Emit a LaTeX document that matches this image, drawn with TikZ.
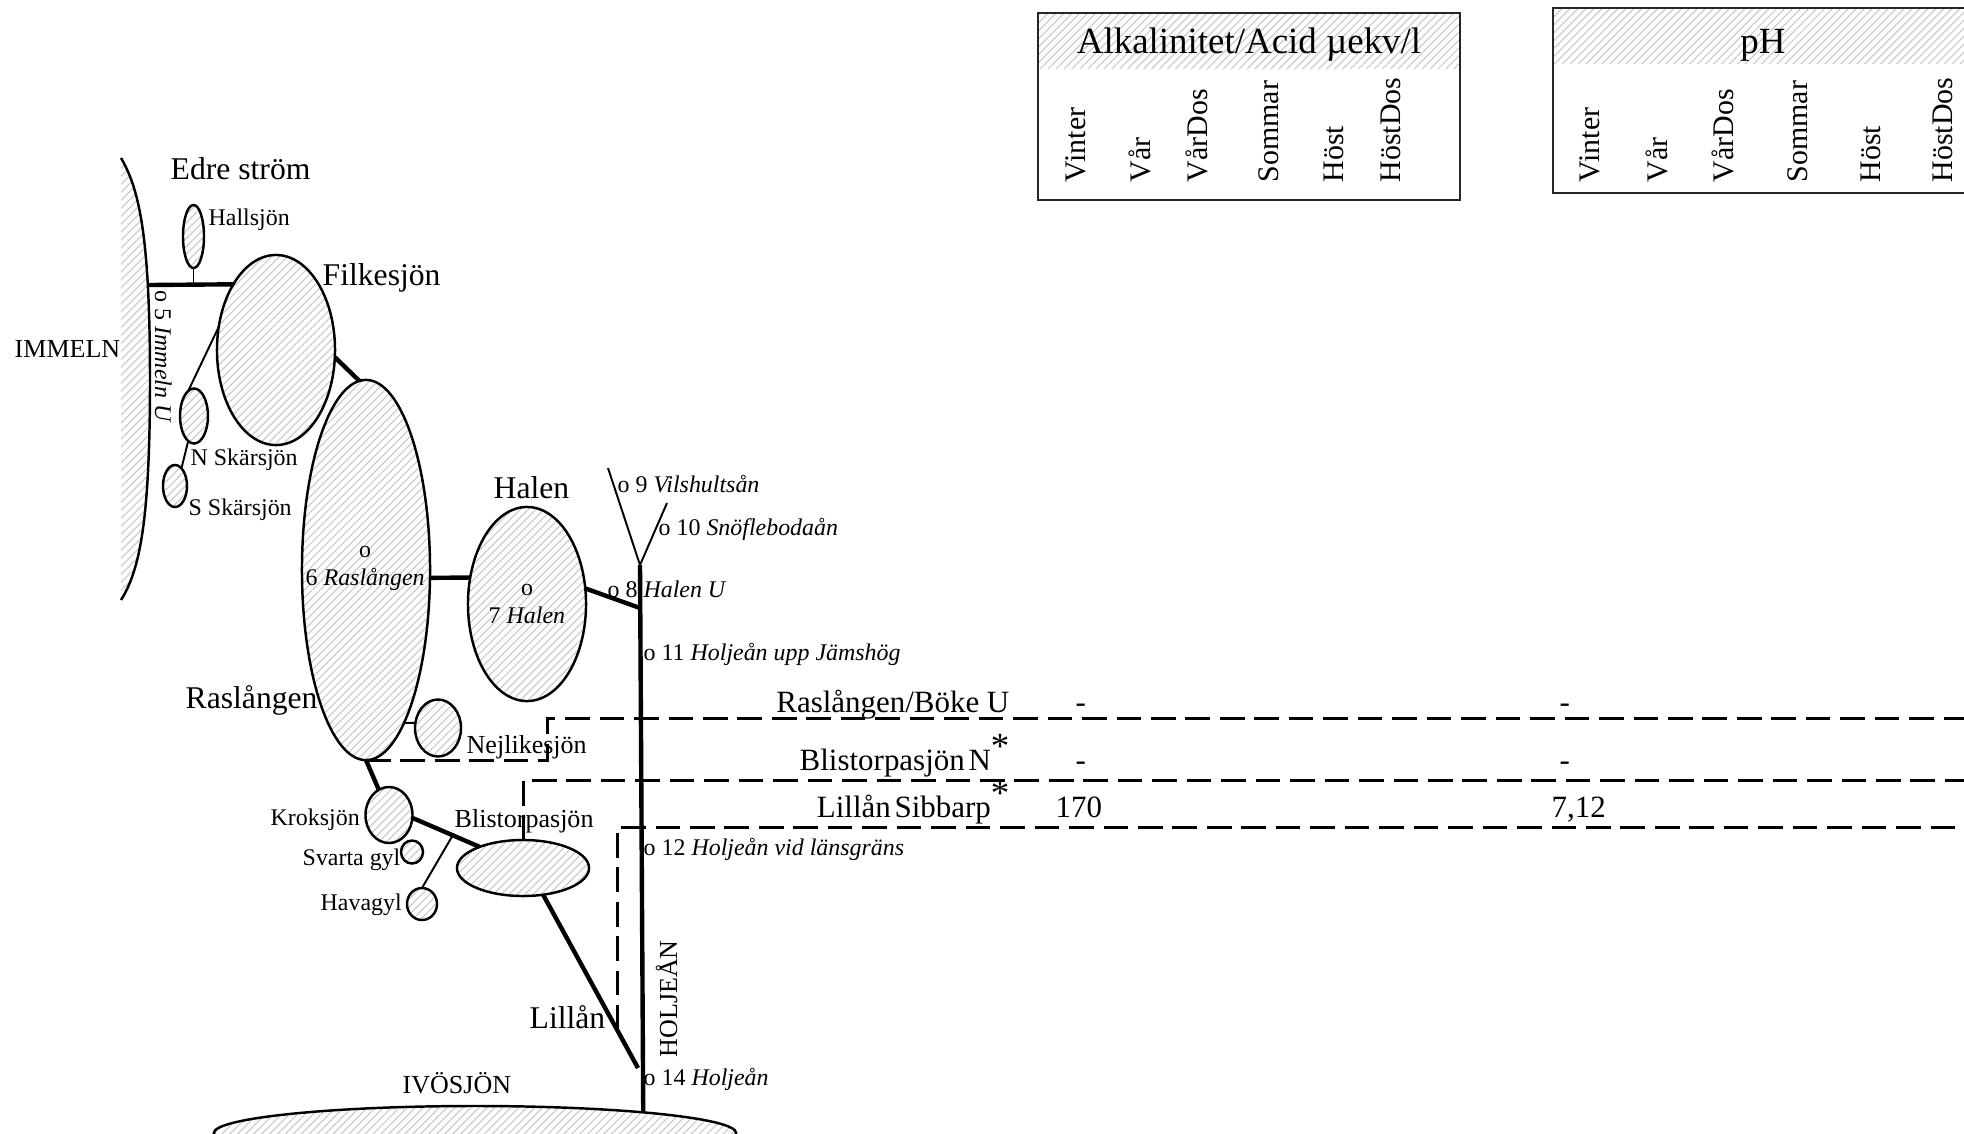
\documentclass[tikz,border=0pt]{standalone}
\usepackage{fontspec}
\setmainfont{Liberation Serif}
\usepackage{tikz}
\usetikzlibrary{shapes.geometric, patterns.meta, calc}

\newcommand{\rowstar}{\raisebox{0.36em}{\fontsize{10.5pt}{10pt}\selectfont *}}

\tikzset{
  hatch/.style={pattern={Lines[angle=45,distance=1.6pt,line width=0.3pt]}, pattern color=black!22},
  lake/.style={ellipse, draw, line width=0.7pt, inner sep=0pt, outer sep=0pt, hatch},
  river/.style={line width=1.25pt},
  brook/.style={line width=0.55pt},
  sampleline/.style={line width=0.85pt, dash pattern=on 7pt off 2.8pt},
  sitelabel/.style={anchor=base west, inner sep=0pt, font=\fontsize{6.8pt}{8pt}\selectfont},
  midlabel/.style={anchor=base west, inner sep=0pt, font=\fontsize{7.4pt}{9pt}\selectfont},
  lakelabel/.style={anchor=base west, inner sep=0pt, font=\fontsize{9pt}{11pt}\selectfont},
  rowlabel/.style={anchor=base east, inner sep=0pt, font=\fontsize{8.8pt}{10pt}\selectfont},
  rowvalue/.style={anchor=base west, inner sep=0pt, font=\fontsize{8.8pt}{10pt}\selectfont},
  collabel/.style={rotate=90, anchor=base west, inner sep=0pt, font=\fontsize{8.5pt}{10pt}\selectfont},
  headlabel/.style={anchor=base, inner sep=0pt, font=\fontsize{10.5pt}{12pt}\selectfont},
  tableframe/.style={line width=0.75pt, draw=black!85}
}

\begin{document}
\begin{tikzpicture}[x=0.01cm, y=-0.01cm]
  \useasboundingbox (0,0) rectangle (1964,1133);
  \clip (0,0) rectangle (1964,1133);

  % lakes
  \fill[hatch] (121,158) .. controls (140,190) and (150,240) .. (150,380)
    .. controls (150,520) and (140,570) .. (121,600) -- cycle;
  \draw[line width=0.7pt] (121,158) .. controls (140,190) and (150,240) .. (150,380)
    .. controls (150,520) and (140,570) .. (121,600);
  \node[lake, minimum width=0.21cm, minimum height=0.63cm] (hallsjon) at (193.5,236.5) {};
  \node[lake, minimum width=1.18cm, minimum height=1.90cm] (filk) at (276,350) {};
  \node[lake, minimum width=0.28cm, minimum height=0.55cm] (nskar) at (194,416) {};
  \node[lake, minimum width=0.24cm, minimum height=0.42cm] (sskar) at (175,486) {};
  \node[lake, minimum width=1.28cm, minimum height=3.80cm] (rasl) at (366,570) {};
  \node[lake, minimum width=1.18cm, minimum height=1.94cm] (halen) at (527,604) {};
  \node[lake, minimum width=0.46cm, minimum height=0.57cm] (nejlik) at (438,728) {};
  \node[lake, minimum width=0.47cm, minimum height=0.56cm] (kroks) at (389,815) {};
  \node[lake, minimum width=0.22cm, minimum height=0.23cm] (svarta) at (412,852) {};
  \node[lake, minimum width=0.30cm, minimum height=0.32cm] (hava) at (422,904) {};
  \node[lake, minimum width=1.32cm, minimum height=0.56cm] (blist) at (523,868) {};
  \node[lake, minimum width=5.22cm, minimum height=0.54cm] (ivo) at (475,1133) {};

  % rivers
  \coordinate (immelnU) at (149,285);
  \coordinate (junction) at (640,565);
  \coordinate (vils) at (608,468);
  \coordinate (snof) at (667,503);
  \coordinate (halenU) at (640,608);
  \coordinate (lillmouth) at (638,1068);
  \draw[river] (immelnU) -- (filk.123.5);
  \draw[brook] (hallsjon.south) -- (hallsjon.south |- immelnU);
  \draw[brook] (filk.158.4) -- (nskar.103);
  \draw[brook] (nskar.257.5) -- (sskar.70);
  \draw[river] (filk.-7) -- (rasl.92.7);
  \draw[river] (rasl.-7.1) -- (halen.155.4);
  \draw[river] (halen.15.4) -- (halenU);
  \draw[brook] (rasl.-76) -- (nejlik.167.5);
  \draw[river] (rasl.south) -- (kroks.112);
  \draw[river] (kroks.-7) -- (blist.154);
  \coordinate (havafork) at ($(kroks.-7)!0.6!(blist.154)$);
  \draw[brook] (havafork) -- (hava.north);
  \draw[river] (blist.-53.5) -- (lillmouth);
  \draw[brook] (vils) -- (junction) -- (snof);
  \draw[river] (junction) -- (ivo.7.2);

  % sampling rows
  \coordinate (row1) at (547,718);
  \coordinate (rightend) at (1975,0);
  \coordinate (row2end) at (1975,780);
  \coordinate (row3end) at (1975,827);
  \coordinate (lillcross) at ($(blist.-53.5)!0.78!(lillmouth)$);
  \draw[sampleline] (rasl.south) -| (row1) -- (row1 -| rightend);
  \draw[sampleline] (blist.north) |- (row2end);
  \draw[sampleline] (lillcross) |- (row3end);

  % lake and site names
  \node[lakelabel] (edrelbl) at (170,179) {Edre ström};
  \node[lakelabel] (filklbl) at (322,285) {Filkesjön};
  \node[lakelabel] (halenlbl) at (493,498) {Halen};
  \node[lakelabel] (rasllbl) at (185,708) {Raslången};
  \node[lakelabel] (lilllbl) at (529,1028) {Lillån};
  \node[sitelabel] (halllbl) at (208,225) {Hallsjön};
  \node[sitelabel] (nskarlbl) at (190,465) {N Skärsjön};
  \node[sitelabel] (sskarlbl) at (188,515) {S Skärsjön};
  \node[sitelabel] (kroklbl) at (270,825) {Kroksjön};
  \node[sitelabel] (svartlbl) at (302,865) {Svarta gyl};
  \node[sitelabel] (havalbl) at (320,910) {Havagyl};
  \node[midlabel] (nejllbl) at (466,753) {Nejlikesjön};
  \node[midlabel] (blistlbl) at (454,827) {Blistorpasjön};
  \node[midlabel] (immlbl) at (14,357) {IMMELN};
  \node[midlabel] (ivolbl) at (402,1093) {IVÖSJÖN};
  \node[midlabel, rotate=90] (holjlbl) at (677,1058) {HOLJEÅN};
  \node[sitelabel, rotate=-90] (site5) at (155,290) {o 5 \textit{Immeln U}};
  \node[sitelabel, anchor=base] (site6o) at (365,557) {o};
  \node[sitelabel] (site6) at (305,585) {6 \textit{Raslången}};
  \node[sitelabel, anchor=base] (site7o) at (527,595) {o};
  \node[sitelabel] (site7) at (488,623) {7 \textit{Halen}};
  \node[sitelabel] (site8) at (607,597) {o 8 \textit{Halen U}};
  \node[sitelabel] (site9) at (617,492) {o 9 \textit{Vilshultsån}};
  \node[sitelabel] (site10) at (658,535) {o 10 \textit{Snöflebodaån}};
  \node[sitelabel] (site11) at (643,660) {o 11 \textit{Holjeån upp Jämshög}};
  \node[sitelabel] (site12) at (643,855) {o 12 \textit{Holjeån vid länsgräns}};
  \node[sitelabel] (site14) at (643,1085) {o 14 \textit{Holjeån}};

  % row names and values
  \node[rowlabel] (row1lbl) at (1010,712) {Raslången/Böke U};
  \node[rowlabel] (row2lbl) at (1010,770) {Blistorpasjön\hspace{0.12em}N\rowstar};
  \node[rowlabel] (row3lbl) at (1010,817) {Lillån\hspace{0.12em}Sibbarp\rowstar};
  \node[rowvalue] (alk1) at (1075,712) {-};
  \node[rowvalue] (ph1) at (1559,712) {-};
  \node[rowvalue] (alk2) at (1075,770) {-};
  \node[rowvalue] (ph2) at (1559,770) {-};
  \node[rowvalue] (alk3) at (1055,817) {170};
  \node[rowvalue] (ph3) at (1551,817) {7,12};

  % table heads
  \fill[hatch] (1038,13) rectangle (1460,68);
  \draw[tableframe] (1038,13) rectangle (1460,200);
  \node[headlabel] (alkhead) at (1249,53) {Alkalinitet/Acid µekv/l};
  \foreach \x/\t [count=\i] in {1085/Vinter, 1150/Vår, 1207/VårDos, 1278/Sommar, 1343/Höst, 1400/HöstDos}
    \node[collabel] (alkcol\i) at (\x,183) {\t};
  \fill[hatch] (1553,8) rectangle (1990,63);
  \draw[tableframe] (1553,8) rectangle (1990,193);
  \node[headlabel] (phhead) at (1763,53) {pH};
  \foreach \x/\t [count=\i] in {1599/Vinter, 1667/Vår, 1733/VårDos, 1807/Sommar, 1880/Höst, 1952/HöstDos}
    \node[collabel] (phcol\i) at (\x,183) {\t};
\end{tikzpicture}
\end{document}
